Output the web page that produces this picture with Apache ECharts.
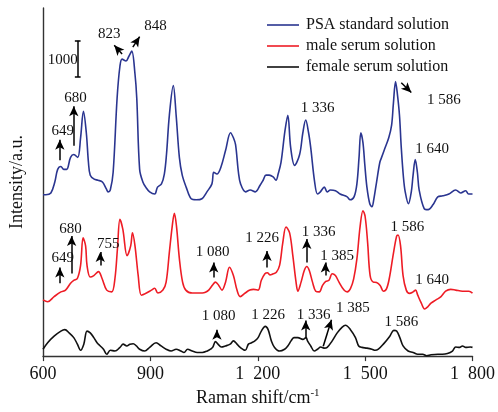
<!DOCTYPE html>
<html><head><meta charset="utf-8">
<script src="https://cdn.jsdelivr.net/npm/echarts@6/dist/echarts.min.js"></script>
<style>html,body{margin:0;padding:0;background:#fff}#c{width:498px;height:412px}</style>
</head><body><div id="c"></div>
<script>
// ---- data ----
const xTickLabels = ['600', '900', '1\u2002200', '1\u2002500', '1\u2002800'];
const seriesNames = ['PSA standard solution', 'male serum solution', 'female serum solution'];

const psaShift = [600,608,622,633,641,650,658,666,677,686,697,705,713,721,727,732,743,754,766,777,782,788,796,807,815,821,832,840,848,857,862,870,879,887,898,912,920,931,939,945,953,964,972,981,989,1000,1014,1028,1044,1058,1072,1077,1086,1097,1110,1124,1132,1138,1146,1152,1166,1179,1193,1207,1215,1223,1232,1243,1251,1257,1265,1276,1284,1292,1303,1317,1326,1334,1342,1348,1359,1367,1375,1386,1394,1403,1417,1430,1450,1458,1469,1477,1483,1488,1494,1499,1505,1513,1519,1524,1532,1541,1546,1554,1566,1574,1579,1585,1590,1596,1601,1607,1612,1621,1629,1634,1640,1646,1651,1665,1676,1690,1703,1717,1734,1753,1767,1781,1789,1800];
const psaIntensity = [4450,4450,4500,4800,5150,5230,5150,5150,5480,5560,5480,6020,6750,6160,5340,4990,4880,4850,4800,4610,4530,4580,5070,7110,8000,8190,8140,8270,8410,7780,7110,5150,4800,4660,4530,4470,4660,4750,5020,5560,6640,7460,6640,5480,4990,4660,4340,4310,4340,4530,4750,5070,5020,5210,5670,6160,6020,5830,5070,4750,4530,4580,4530,4720,4850,4990,4990,4940,4850,5020,5340,6210,6640,5750,5260,5560,6160,6510,6160,5750,4800,4470,4530,4660,4530,4580,4560,4470,4390,4310,4390,4750,5480,6160,5880,5290,4660,4200,4120,4310,4800,5340,5480,5700,6020,6370,6970,7570,7240,6640,5750,4940,4530,4200,4530,4990,5420,5070,4580,4070,4040,4180,4390,4420,4470,4580,4500,4560,4470,4470];

const maleShift = [600,613,631,650,663,677,686,696,705,712,719,723,732,742,755,765,778,792,801,808,815,823,835,845,850,857,866,875,889,903,912,921,935,944,953,961,967,973,981,990,999,1017,1045,1054,1063,1073,1082,1091,1100,1110,1121,1132,1142,1151,1165,1178,1188,1201,1210,1220,1227,1234,1243,1252,1261,1270,1279,1289,1298,1307,1312,1321,1330,1337,1344,1353,1362,1372,1381,1390,1399,1408,1417,1427,1441,1450,1459,1468,1477,1486,1494,1500,1507,1514,1523,1532,1542,1551,1560,1569,1578,1588,1592,1599,1606,1615,1624,1634,1641,1647,1657,1666,1675,1684,1698,1712,1725,1739,1753,1772,1790,1800];
const maleIntensity = [1550,1500,1640,1770,1820,2010,2090,2140,2500,3260,3040,2500,2180,2220,2330,2140,1820,1770,2140,2960,3770,3500,2770,3040,3400,3040,2220,1680,1740,1820,1870,1740,1820,2040,2860,3580,3940,3580,2690,2040,1820,1740,1740,1760,1820,1950,2040,1950,1820,2040,2450,2220,1820,1640,1740,1820,1840,1820,2090,2270,2300,2240,2270,2310,2500,3130,3560,3400,2770,2040,1790,2040,2360,2470,2360,2040,1790,1770,1950,2060,2090,2270,2220,2040,1820,1770,1860,2130,2680,3580,4010,3850,3130,2220,2040,2030,1950,1790,1860,2220,2770,3310,3340,3040,2220,1820,1730,1770,1820,1680,1460,1300,1360,1460,1550,1640,1790,1840,1820,1790,1790,1740];

const femaleShift = [600,613,631,650,661,673,686,696,705,714,723,732,742,751,760,769,778,788,801,815,824,834,843,852,861,870,884,898,916,930,944,958,972,985,994,1004,1017,1031,1045,1059,1068,1074,1082,1089,1098,1110,1123,1132,1142,1151,1165,1174,1183,1192,1201,1210,1221,1229,1238,1247,1261,1275,1284,1293,1301,1312,1326,1335,1339,1348,1358,1367,1376,1385,1394,1408,1422,1436,1445,1459,1473,1482,1491,1505,1519,1528,1537,1551,1569,1580,1588,1597,1606,1620,1634,1647,1661,1672,1684,1703,1716,1730,1744,1753,1764,1772,1781,1794,1800];
const femaleIntensity = [190,370,550,690,730,640,510,330,160,330,690,640,510,370,280,190,50,160,140,240,330,280,330,340,280,190,140,240,370,280,190,140,190,140,100,190,140,100,100,140,190,240,400,330,250,280,330,420,330,240,160,330,370,420,510,690,820,730,420,240,140,190,280,420,510,510,460,510,420,280,140,190,250,220,240,420,640,800,850,730,510,280,240,220,190,160,190,330,550,710,690,510,280,140,100,50,50,10,35,50,50,70,140,250,240,280,240,250,240];

// annotation texts: [label, shift, intensity]
const psaNotes = [['649',655,6210],['680',691,7110],['823',785,8870],['848',914,9090],['1 336',1367,6830],['1 586',1720,7050],['1 640',1687,5700]];
const maleNotes = [['649',655,2690],['680',677,3500],['755',782,3090],['1 080',1074,2870],['1 226',1212,3250],['1 336',1370,3420],['1 385',1422,2770],['1 586',1618,3550],['1 640',1687,2090]];
const femaleNotes = [['1 080',1091,1110],['1 226',1229,1140],['1 336',1356,1140],['1 385',1466,1330],['1 586',1601,950]];
// arrows: [fromShift, fromIntensity, toShift, toIntensity]
const psaArrows = [[647,5400,647,5970],[686,5800,686,6890],[821,8330,799,8570],[851,8520,870,8810],[1601,7540,1629,7270]];
const maleArrows = [[647,2010,647,2440],[680,2280,680,3310],[760,2500,760,2870],[1077,2170,1077,2580],[1226,2440,1226,2900],[1337,2580,1337,3230],[1389,2220,1389,2580]];
const femaleArrows = [[1086,540,1086,730],[1334,520,1334,980],[1383,270,1406,1000]];
// scale bar: [shift, lowIntensity, highIntensity, label]
const scaleBar = [697, 7700, 8700, '1000'];
const scaleLabelPos = [655, 8160];

const colors = ['#2a3590', '#ee1c25', '#111111'];
const FONT = 'Liberation Serif, Times New Roman, serif';

function pairs(xs, ys) { return xs.map((x, i) => [x, ys[i]]); }
function noteMarks(notes) {
  return {
    silent: true, animation: false, symbol: 'circle', symbolSize: 0,
    itemStyle: { color: 'rgba(0,0,0,0)' },
    label: { show: true, position: 'inside', formatter: '{b}', color: '#111', fontSize: 15, fontFamily: FONT },
    emphasis: { disabled: true },
    data: notes.map(n => ({ name: n[0], coord: [n[1], n[2]] }))
  };
}
function arrowMarks(arrows, extra) {
  const data = arrows.map(a => [{ coord: [a[0], a[1]] }, { coord: [a[2], a[3]] }]);
  return {
    silent: true, animation: false, symbol: ['none', 'arrow'], symbolSize: [7, 10],
    label: { show: false }, emphasis: { disabled: true },
    lineStyle: { color: '#000', width: 1.5, type: 'solid' },
    itemStyle: { color: '#000' },
    data: data.concat(extra || [])
  };
}
const capHalf = 8;
const barLines = [
  [{ coord: [scaleBar[0], scaleBar[1]], symbol: 'none' }, { coord: [scaleBar[0], scaleBar[2]], symbol: 'none' }],
  [{ coord: [scaleBar[0] - capHalf, scaleBar[1]], symbol: 'none' }, { coord: [scaleBar[0] + capHalf, scaleBar[1]], symbol: 'none' }],
  [{ coord: [scaleBar[0] - capHalf, scaleBar[2]], symbol: 'none' }, { coord: [scaleBar[0] + capHalf, scaleBar[2]], symbol: 'none' }]
];

const psaMarkPoint = noteMarks(psaNotes.concat([[scaleBar[3], scaleLabelPos[0], scaleLabelPos[1]]]));

const chart = echarts.init(document.getElementById('c'), null, { renderer: 'canvas' });
chart.setOption({
  animation: false,
  backgroundColor: '#ffffff',
  grid: { left: 42, right: 21, top: 8, bottom: 50 },
  legend: {
    data: seriesNames, orient: 'vertical', left: 262, top: 12,
    icon: 'rect', itemWidth: 32, itemHeight: 1.6, itemGap: 5,
    textStyle: { fontSize: 16, fontFamily: FONT, color: '#111', lineHeight: 16, padding: [0, 0, 0, 2] },
    selectedMode: false
  },
  xAxis: {
    type: 'value', min: 600, max: 1800, interval: 300,
    axisLine: { show: true, lineStyle: { color: '#333', width: 1.4 } },
    axisTick: { show: true, inside: false, length: 5, lineStyle: { color: '#333', width: 1.2 } },
    splitLine: { show: false },
    axisLabel: { fontSize: 18, fontFamily: FONT, color: '#111', margin: 9,
      formatter: v => xTickLabels[Math.round((v - 600) / 300)] },
    name: 'Raman shift/cm{sup|-1}', nameLocation: 'middle', nameGap: 30,
    nameTextStyle: { fontSize: 18, fontFamily: FONT, color: '#111',
      rich: { sup: { fontSize: 11, fontFamily: FONT, color: '#111', padding: [0, 0, 9, 0] } } }
  },
  yAxis: {
    type: 'value', min: 0, max: 9600,
    axisLine: { show: true, lineStyle: { color: '#333', width: 1.4 } },
    axisTick: { show: false }, axisLabel: { show: false }, splitLine: { show: false },
    name: 'Intensity/a.u.', nameLocation: 'middle', nameGap: 17,
    nameTextStyle: { fontSize: 18, fontFamily: FONT, color: '#111' }
  },
  series: [
    { name: seriesNames[0], type: 'line', data: pairs(psaShift, psaIntensity), showSymbol: false, smooth: 0.35,
      lineStyle: { color: colors[0], width: 1.6 }, itemStyle: { color: colors[0] },
      markPoint: psaMarkPoint, markLine: arrowMarks(psaArrows, barLines) },
    { name: seriesNames[1], type: 'line', data: pairs(maleShift, maleIntensity), showSymbol: false, smooth: 0.35,
      lineStyle: { color: colors[1], width: 1.6 }, itemStyle: { color: colors[1] },
      markPoint: noteMarks(maleNotes), markLine: arrowMarks(maleArrows) },
    { name: seriesNames[2], type: 'line', data: pairs(femaleShift, femaleIntensity), showSymbol: false, smooth: 0.35,
      lineStyle: { color: colors[2], width: 1.6 }, itemStyle: { color: colors[2] },
      markPoint: noteMarks(femaleNotes), markLine: arrowMarks(femaleArrows) }
  ]
});
</script></body></html>
